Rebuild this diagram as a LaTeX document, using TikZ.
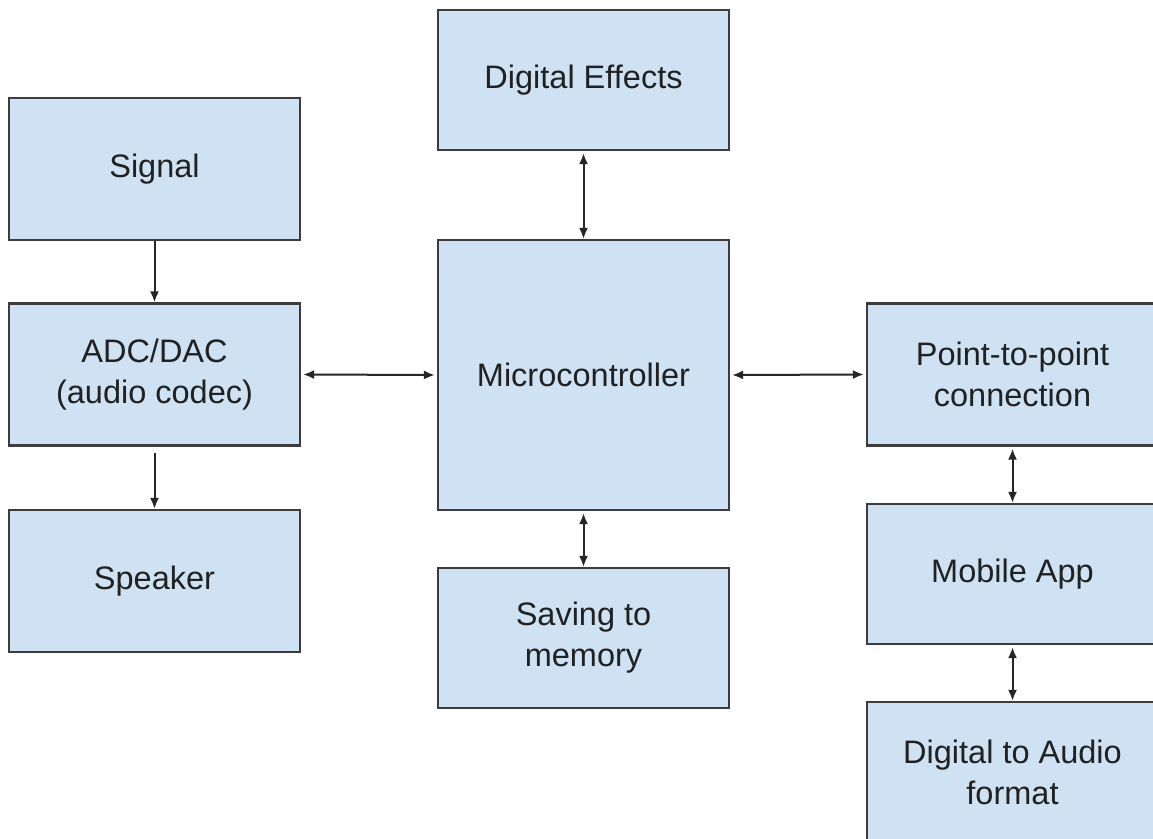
\documentclass[tikz,border=0pt]{standalone}
\usepackage{fontspec}
\setmainfont{Liberation Sans}
\usetikzlibrary{arrows.meta}
\definecolor{boxfill}{HTML}{CFE2F3}
\definecolor{boxline}{HTML}{3C3C3C}
\tikzset{
  block/.style={draw=boxline, line width=2.2pt, fill=boxfill, minimum width=291pt,
    inner sep=0pt, align=center, font=\fontsize{32.5}{41}\selectfont, text=black!87},
  tip/.style={Latex[length=11pt,width=9pt]},
  link/.style={line width=2pt, draw=black!85, -{Latex[length=11pt,width=9pt]}},
  blink/.style={line width=2pt, draw=black!85, {Latex[length=11pt,width=9pt]}-{Latex[length=11pt,width=9pt]}}
}
\begin{document}
\begin{tikzpicture}[x=1pt,y=-1pt]
\clip (0,0) rectangle (1153,838);
\fill[white] (0,0) rectangle (1153,838);
\node[block, minimum height=140pt] (de) at (583.5,80) {Digital Effects};
\node[block, minimum height=142pt] (sig) at (154.5,169) {Signal};
\node[block, minimum height=270pt] (mc) at (583.5,375) {Microcontroller};
\node[block, minimum height=142pt] (adc) at (154.5,374.5) {ADC/DAC\\(audio codec)};
\node[block, minimum height=142pt] (ptp) at (1012.5,374.5) {Point-to-point\\connection};
\node[block, minimum height=142pt] (spk) at (154.5,581) {Speaker};
\node[block, minimum height=140pt] (sav) at (583.5,638) {Saving to\\memory};
\node[block, minimum height=140pt] (mob) at (1012.5,574) {Mobile App};
\node[block, minimum height=140pt] (dta) at (1012.5,772) {Digital to Audio\\format};
\draw[link] (sig.south) -- (adc.north);
\draw[link] ([yshift=-6pt]adc.south) -- (spk.north);
\draw[blink] ([xshift=2pt]adc.east) -- ([xshift=-2pt]mc.west);
\draw[blink] ([xshift=2pt]mc.east) -- ([xshift=-2pt]ptp.west);
\draw[blink] ([yshift=-2pt]de.south) -- (mc.north);
\draw[blink] ([yshift=-2pt]mc.south) -- (sav.north);
\draw[blink] ([yshift=-2pt]ptp.south) -- (mob.north);
\draw[blink] ([yshift=-2pt]mob.south) -- (dta.north);
\end{tikzpicture}
\end{document}
